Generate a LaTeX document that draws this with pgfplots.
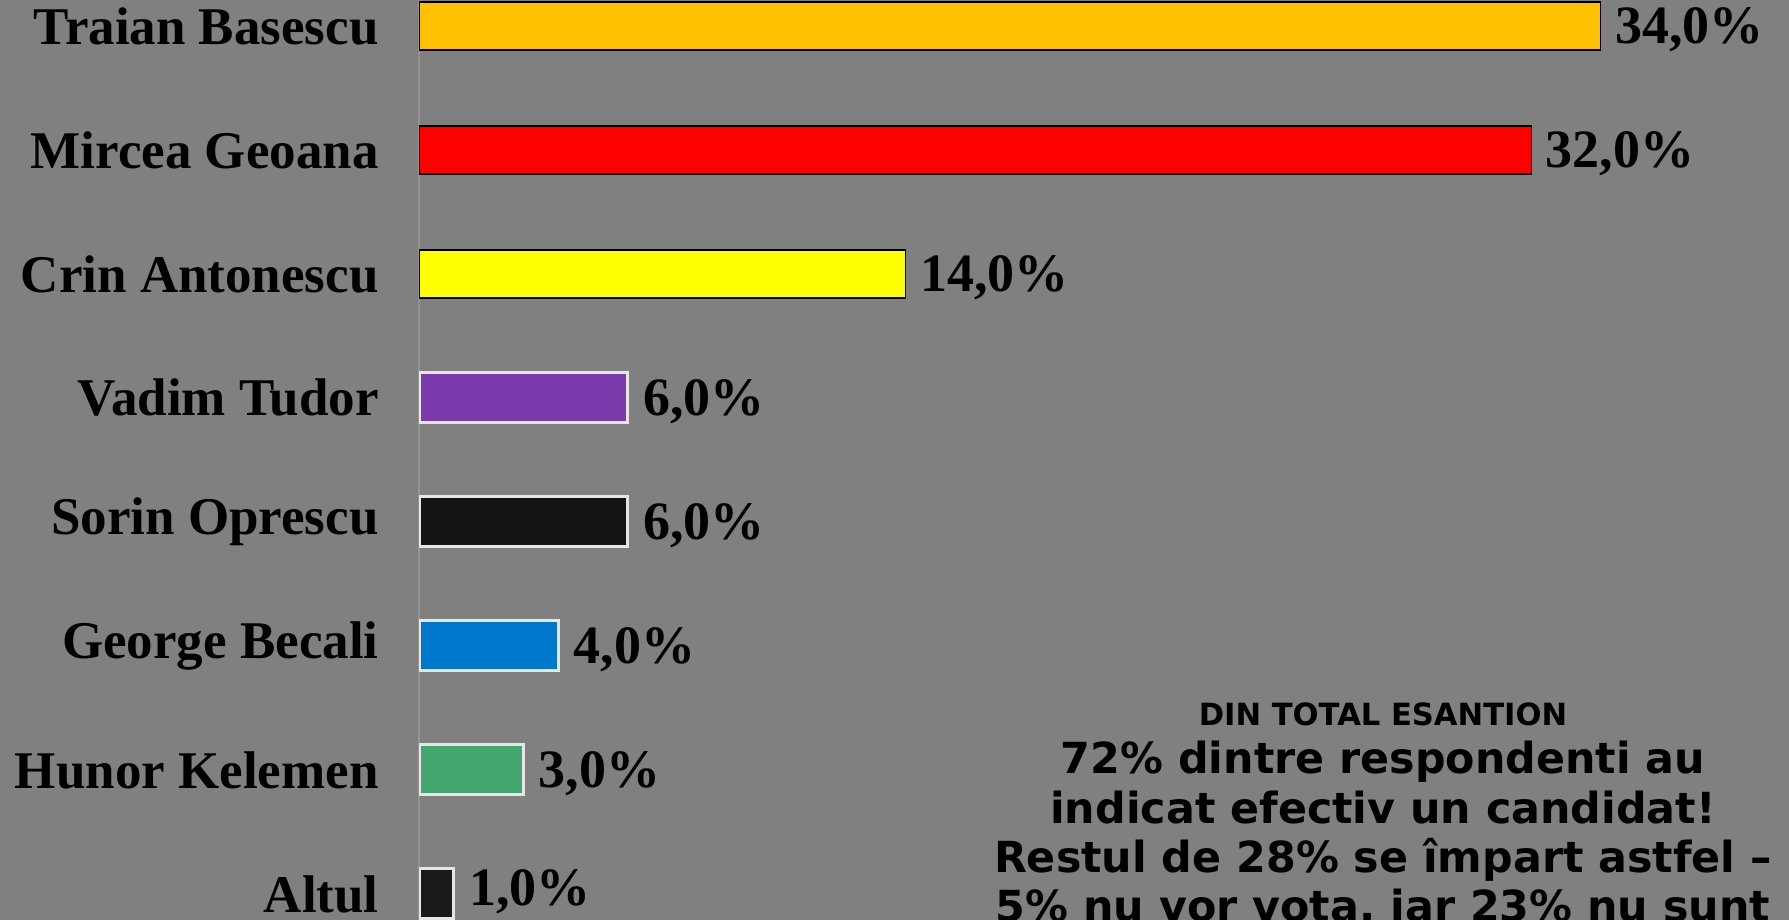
\documentclass[border=0pt]{standalone}
\usepackage{fontspec}
\setmainfont{Liberation Serif}
\newfontfamily\dv{DejaVu Sans}
\usepackage{pgfplots}
\pgfplotsset{compat=1.18}
\definecolor{bggray}{HTML}{808080}
\definecolor{cTraian}{HTML}{FFC000}
\definecolor{cMircea}{HTML}{FF0000}
\definecolor{cCrin}{HTML}{FFFF00}
\definecolor{cVadim}{HTML}{7B3AAB}
\definecolor{cSorin}{HTML}{141414}
\definecolor{cGeorge}{HTML}{0078CC}
\definecolor{cHunor}{HTML}{42A66E}
\definecolor{cAltul}{HTML}{1A1A1A}
\definecolor{frame3d}{HTML}{E6E6E6}
\begin{document}
\begin{tikzpicture}
\useasboundingbox (0,0) rectangle (894.5pt,460pt);
\fill[bggray] (0,0) rectangle (894.5pt,460pt);
\begin{scope}
\clip (0,0) rectangle (894.5pt,460pt);
\begin{axis}[
  scale only axis,
  x=17.38pt, y=62pt,
  anchor=south west, at={(209.5pt,-18pt)},
  xmin=0, xmax=40, ymin=-0.5, ymax=7.5,
  axis x line=none,
  axis y line=left,
  axis line style={-, draw=gray!85!white, line width=0.8pt},
  xbar, bar shift=0pt,
  ytick={0,...,7},
  yticklabels={Altul, Hunor Kelemen, George Becali, Sorin Oprescu, Vadim Tudor, Crin Antonescu, Mircea Geoana, Traian Basescu},
  major tick length=0pt,
  yticklabel style={anchor=east, inner sep=0pt, xshift=-20pt, font=\fontsize{26.5}{28}\selectfont\bfseries, text=black},
  nodes near coords={\pgfmathprintnumber[fixed, fixed zerofill, precision=1, use comma, assume math mode=true]{\pgfplotspointmeta}\%},
  nodes near coords style={anchor=base west, inner sep=0pt, xshift=7pt, yshift=-9pt, font=\fontsize{27}{30}\selectfont\bfseries, text=black},
]
\addplot[fill=cTraian, draw=black, line width=0.6pt, bar width=24pt] coordinates {(34,7)};
\addplot[fill=cMircea, draw=black, line width=0.6pt, bar width=24pt] coordinates {(32,6)};
\addplot[fill=cCrin, draw=black, line width=0.6pt, bar width=24pt] coordinates {(14,5)};
\addplot[fill=cVadim, draw=frame3d, line width=1.5pt, bar width=25pt] coordinates {(6,4)};
\addplot[fill=cSorin, draw=frame3d, line width=1.5pt, bar width=25pt] coordinates {(6,3)};
\addplot[fill=cGeorge, draw=frame3d, line width=1.5pt, bar width=25pt] coordinates {(4,2)};
\addplot[fill=cHunor, draw=frame3d, line width=1.5pt, bar width=25pt] coordinates {(3,1)};
\addplot[fill=cAltul, draw=frame3d, line width=1.5pt, bar width=25pt, nodes near coords style={yshift=3pt}] coordinates {(1,0)};
\end{axis}
\node[anchor=base, inner sep=0pt] at (691.5pt,97pt) {\dv\bfseries\fontsize{15.3}{18}\selectfont DIN TOTAL ESANTION};
\node[anchor=base, inner sep=0pt] at (691.5pt,73pt) {\dv\bfseries\fontsize{21.4}{24}\selectfont 72\% dintre respondenti au};
\node[anchor=base, inner sep=0pt] at (691.5pt,48pt) {\dv\bfseries\fontsize{21.4}{24}\selectfont indicat efectiv un candidat!};
\node[anchor=base, inner sep=0pt] at (691.5pt,23.5pt) {\dv\bfseries\fontsize{21.4}{24}\selectfont Restul de 28\% se împart astfel –};
\node[anchor=base, inner sep=0pt] at (691.5pt,-1pt) {\dv\bfseries\fontsize{21.4}{24}\selectfont 5\% nu vor vota, iar 23\% nu sunt};
\end{scope}
\end{tikzpicture}
\end{document}
